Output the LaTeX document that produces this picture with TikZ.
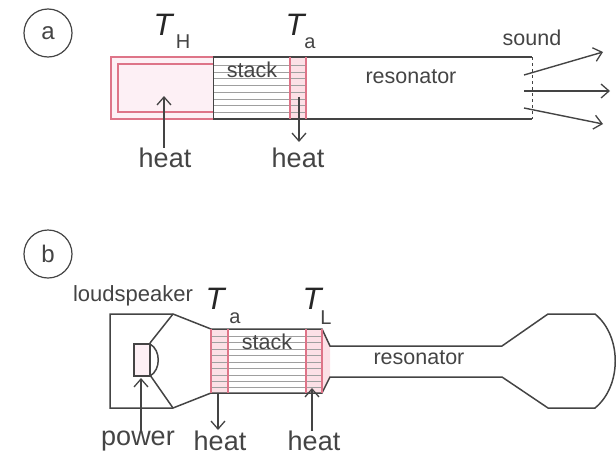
\documentclass[tikz,border=0pt]{standalone}
\usepackage{fontspec}
\setmainfont{Liberation Sans}
\usetikzlibrary{arrows.meta}
\definecolor{hotred}{HTML}{DE7488}
\definecolor{hotpink}{HTML}{FDF0F5}
\definecolor{coolpink}{HTML}{FCE0E6}
\definecolor{inkgray}{HTML}{444444}
\tikzset{
  wall/.style={draw=inkgray,line width=1.5pt},
  redwall/.style={draw=hotred,line width=1.6pt},
  slat/.style={draw=gray!75,line width=.8pt},
  flow/.style={draw=inkgray,line width=1.4pt,-{Straight Barb[length=8pt,width=14pt,line width=1.3pt]}},
  tag/.style={circle,draw=inkgray,line width=1.2pt,minimum size=48pt,inner sep=0pt,font=\fontsize{24}{24}\selectfont,text=inkgray},
  big/.style={inner sep=0pt,text=inkgray,font=\fontsize{27}{27}\selectfont},
  small/.style={inner sep=0pt,text=inkgray,font=\fontsize{21.5}{22}\selectfont},
  tsym/.style={inner sep=0pt,text=black!85,font=\fontsize{31}{31}\selectfont\itshape},
  tsub/.style={inner sep=0pt,text=inkgray,font=\fontsize{20}{20}\selectfont}
}
\begin{document}
\begin{tikzpicture}[x=1pt,y=-1pt]
    \useasboundingbox (0,0) rectangle (616,461);

    % draw part a: pink parts
    \fill[hotpink] (111,57) rectangle (213,119);
    \fill[coolpink] (290,57) rectangle (306,119);

    % draw stack lines
    \foreach \y in {65,72,78,85,92,99,105,112}
      \draw[slat] (213,\y) -- (306,\y);

    % draw tube walls
    \draw[redwall,line width=2.4pt] (213,57) -- (111,57) -- (111,119) -- (213,119);
    \draw[redwall] (213,64) -- (118,64) -- (118,112) -- (213,112);
    \draw[wall] (213,57) -- (532,57);
    \draw[wall] (213,119) -- (532,119);
    \draw[wall,line width=1pt] (213,57) -- (213,119);
    \draw[redwall] (290,57) -- (290,119);
    \draw[redwall] (306,57) -- (306,119);
    \draw[inkgray,line width=1pt,dashed] (532,57) -- (532,119);

    % draw labels
    \node[tag] (taga) at (48,33) {a};
    \node[tsym] (TH) at (163,25) {T};
    \node[tsub] (TsubH) at (183,42) {H};
    \node[tsym] (Ta) at (295,25) {T};
    \node[tsub] (Tsuba) at (310,43) {a};
    \node[small] (stacka) at (252,70) {stack};
    \node[small] (resa) at (411,77) {resonator};
    \node[small] (sound) at (532,38) {sound};
    \node[big] (heatH) at (165,158) {heat};
    \node[big] (heatA) at (298,158) {heat};

    % draw arrows
    \coordinate (hotin) at (164,96);
    \coordinate (coldtop) at (299,97);
    \coordinate (coldend) at (299,142);
    \coordinate (s1) at (524,75);
    \coordinate (s2) at (524,91);
    \coordinate (s3) at (524,108);
    \coordinate (e1) at (603,52);
    \coordinate (e2) at (610,91);
    \coordinate (e3) at (603,124);
    \draw[flow] (heatH.north -| hotin) -- (hotin);
    \draw[flow] (coldtop) -- (coldend);
    \draw[flow] (s1) -- (e1);
    \draw[flow] (s2) -- (e2);
    \draw[flow] (s3) -- (e3);

    % draw part b: pink parts
    \fill[coolpink] (211,329) rectangle (228,393);
    \fill[coolpink] (306,329) -- (322,329) -- (330,346) -- (330,377) -- (322,393) -- (306,393) -- cycle;
    \fill[hotpink] (134,344) rectangle (150,376);

    % draw stack lines
    \foreach \y in {336,342,349,355,362,368,375,381,387}
      \draw[slat] (211,\y) -- (322,\y);

    % draw loudspeaker
    \draw[wall] (211,329) -- (173,314) -- (110,314) -- (110,408) -- (173,408) -- (211,393);
    \draw[wall] (173,314) -- (150,343);
    \draw[wall] (173,408) -- (150,375);
    \draw[wall] (134,344) rectangle (150,376);
    \draw[wall] (150,344) .. controls (161,350) and (161,370) .. (150,376);

    % draw tube and horn
    \draw[wall] (211,329) -- (322,329) -- (330,346) -- (502,346) -- (548,314) -- (595,314)
      .. controls (622,336) and (622,386) .. (595,408) -- (548,408) -- (502,377) -- (330,377) -- (322,393) -- (211,393);
    \foreach \x in {211,228,306,322}
      \draw[redwall] (\x,329) -- (\x,393);

    % draw labels
    \node[tag] (tagb) at (48,254) {b};
    \node[small,font=\fontsize{22}{22}\selectfont] (speaker) at (133,296) {loudspeaker};
    \node[tsym] (Tb) at (215,299) {T};
    \node[tsub] (Tsubb) at (235,318) {a};
    \node[tsym] (TL) at (312,299) {T};
    \node[tsub] (TsubL) at (326,318) {L};
    \node[small] (stackb) at (267,342) {stack};
    \node[small] (resb) at (419,358) {resonator};
    \node[big] (power) at (138,441) {power};
    \node[big] (heatB) at (220,441) {heat};
    \node[big] (heatL) at (314,441) {heat};

    % draw arrows
    \coordinate (coil) at (141,378);
    \coordinate (hottop) at (218,393);
    \coordinate (hotend) at (218,430);
    \coordinate (coldin) at (312,388);
    \draw[flow] (power.north -| coil) -- (coil);
    \draw[flow] (hottop) -- (hotend);
    \draw[flow] (heatL.north -| coldin) -- (coldin);
\end{tikzpicture}
\end{document}
